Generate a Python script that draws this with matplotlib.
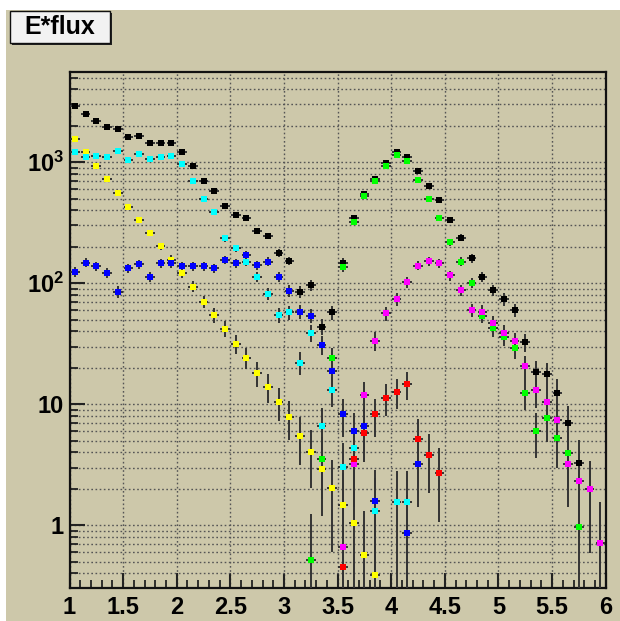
import numpy as np
import matplotlib
matplotlib.use("Agg")
import matplotlib.pyplot as plt
from matplotlib.patches import Rectangle
from matplotlib.ticker import FixedLocator, NullFormatter

nan = np.nan

# bin centres, 0.1 wide bins from 1 to 6
bin_centres = [1.05, 1.15, 1.25, 1.35, 1.45, 1.55, 1.65, 1.75, 1.85, 1.95,
               2.05, 2.15, 2.25, 2.35, 2.45, 2.55, 2.65, 2.75, 2.85, 2.95,
               3.05, 3.15, 3.25, 3.35, 3.45, 3.55, 3.65, 3.75, 3.85, 3.95,
               4.05, 4.15, 4.25, 4.35, 4.45, 4.55, 4.65, 4.75, 4.85, 4.95,
               5.05, 5.15, 5.25, 5.35, 5.45, 5.55, 5.65, 5.75, 5.85, 5.95]

# E*flux per component
total = [2935, 2495, 2208, 1946, 1884, 1609, 1649, 1435, 1444, 1444,
         1224, 927, 700, 576, 433, 369, 346, 272, 246, 179,
         153, 85.3, 96.8, 43.8, 57.6, 148, 348, 544, 733, 993,
         1210, 1113, 853, 637, 485, 334, 238, 161, 113, 88,
         73.8, 60.2, 32.7, 18.6, 17.7, 12.5, 6.97, 3.29, 2.0, 0.71]

yellow = [1559, 1224, 937, 724, 561, 430, 335, 261, 202, 157,
          121, 93.7, 70.5, 54.7, 42.2, 31.7, 24.3, 18.2, 14.0, 10.5,
          7.85, 5.5, 4.06, 2.9, 2.02, 1.47, 1.04, 0.565, 0.386, nan,
          nan, nan, nan, nan, nan, nan, nan, nan, nan, nan,
          nan, nan, nan, nan, nan, nan, nan, nan, nan, nan]

cyan = [1224, 1113, 1127, 1106, 1247, 1045, 1178, 1058, 1099, 1134,
        974, 700, 497, 391, 235, 195, 151, 113, 81.6, 54.7,
        57.6, 22.1, 38.6, 6.66, 13.1, 3.05, 4.33, nan, 1.31, nan,
        1.55, 1.55, nan, nan, nan, nan, nan, nan, nan, nan,
        nan, nan, nan, nan, nan, nan, nan, nan, nan, nan]

blue = [124, 148, 139, 122, 85.3, 133, 144, 113, 146, 146,
        138, 139, 139, 133, 156, 146, 171, 141, 151, 113,
        86.9, 58.2, 54.0, 30.9, 18.8, 8.27, 6.05, 6.66, 1.59, nan,
        nan, 0.863, 3.21, nan, nan, nan, nan, nan, nan, nan,
        nan, nan, nan, nan, nan, nan, nan, nan, nan, nan]

green = [nan, nan, nan, nan, nan, nan, nan, nan, nan, nan,
         nan, nan, nan, nan, nan, nan, nan, nan, nan, nan,
         nan, nan, 0.517, 3.51, 24.0, 135, 323, 527, 704, 937,
         1143, 1030, 714, 495, 344, 218, 151, 101, 54, 42.5,
         36.2, 29.0, 12.5, 6.02, 7.66, 5.30, 3.94, 0.974, nan, nan]

magenta = [nan, nan, nan, nan, nan, nan, nan, nan, nan, nan,
           nan, nan, nan, nan, nan, nan, nan, nan, nan, nan,
           nan, nan, nan, nan, nan, 0.665, 3.19, 11.9, 33.4, 56.5,
           73.8, 102, 140, 152, 146, 116, 88, 60.2, 58.2, 47.2,
           38.6, 33.2, 20.7, 13.0, 10.4, 7.42, 3.19, 2.32, 2.0, 0.71]

red = [nan, nan, nan, nan, nan, nan, nan, nan, nan, nan,
       nan, nan, nan, nan, nan, nan, nan, nan, nan, nan,
       nan, nan, nan, nan, nan, 0.455, 3.51, 5.76, 8.27, 11.3,
       12.6, 14.7, 5.2, 3.78, 2.72, nan, nan, nan, nan, nan,
       nan, nan, nan, nan, nan, nan, nan, nan, nan, nan]

series = [
    (total, "black"),
    (yellow, "#ffff00"),
    (cyan, "#00ffff"),
    (blue, "#0000ff"),
    (green, "#00ff00"),
    (magenta, "#ff00ff"),
    (red, "#ff0000"),
]

x_ticks = [1, 1.5, 2, 2.5, 3, 3.5, 4, 4.5, 5, 5.5, 6]
x_labels = ["1", "1.5", "2", "2.5", "3", "3.5", "4", "4.5", "5", "5.5", "6"]
y_ticks = [1, 10, 100, 1000]
y_labels = ["1", "10", r"$\mathbf{10^{2}}$", r"$\mathbf{10^{3}}$"]

TAN = "#cdc8aa"
W, H = 620, 621

plt.rcParams["font.family"] = ["Liberation Sans", "DejaVu Sans"]
plt.rcParams["mathtext.fontset"] = "custom"
plt.rcParams["mathtext.bf"] = "Liberation Sans:bold"
plt.rcParams["mathtext.rm"] = "Liberation Sans:bold"

fig = plt.figure(figsize=(W / 100, H / 100), dpi=100, facecolor="white")

# canvas background (white strip on top and left)
fig.add_artist(Rectangle((6 / W, 0), 1, 1 - 10 / H, transform=fig.transFigure,
                         facecolor=TAN, edgecolor="none", zorder=0))

left, right, top, bottom = 69.5, 605.7, 71.5, 588
ax = fig.add_axes([left / W, 1 - bottom / H, (right - left) / W, (bottom - top) / H])
ax.set_facecolor(TAN)
ax.set_yscale("log")
ax.set_xlim(1, 6)
ax.set_ylim(0.303, 5620)

for vals, col in series:
    v = np.array(vals, dtype=float)
    err = np.sqrt(v)  # poisson errors
    ax.errorbar(bin_centres, v, yerr=err, xerr=0.045, fmt="s", ms=4.0,
                mfc=col, mec=col, mew=0, ecolor="#333333", elinewidth=1.4,
                capsize=0, zorder=3)

# ticks
ax.xaxis.set_major_locator(FixedLocator(x_ticks))
ax.set_xticklabels(x_labels)
ax.xaxis.set_minor_locator(FixedLocator([1 + 0.1 * k for k in range(51)]))
ax.yaxis.set_major_locator(FixedLocator(y_ticks))
ax.set_yticklabels(y_labels)
minor_y = [m * d for d in [0.1, 1, 10, 100, 1000] for m in range(2, 10)]
ax.yaxis.set_minor_locator(FixedLocator(minor_y))
ax.yaxis.set_minor_formatter(NullFormatter())

ax.tick_params(axis="both", which="major", direction="in", length=11, width=1.5,
               labelsize=17, color="#222222")
ax.tick_params(axis="both", which="minor", direction="in", length=5.5, width=1.3,
               color="#222222")
ax.tick_params(axis="x", which="both", top=False, pad=6)
ax.tick_params(axis="y", which="both", right=False, pad=4)
for lab in ax.get_xticklabels() + ax.get_yticklabels():
    lab.set_fontweight("bold")

# grid: vertical at major x, horizontal at every log tick
ax.grid(True, axis="x", which="major", linestyle=(0, (1.2, 1.8)), color="#555555", lw=1.0)
ax.grid(True, axis="y", which="both", linestyle=(0, (1.2, 1.8)), color="#555555", lw=1.0)
ax.set_axisbelow(True)

for s in ax.spines.values():
    s.set_linewidth(1.6)
    s.set_color("#111111")

# title box "E*flux"
bx0, by0, bx1, by1 = 10, 11, 110, 43
fig.add_artist(Rectangle(((bx0 + 2) / W, 1 - (by1 + 2) / H), (bx1 - bx0) / W, (by1 - by0) / H,
                         transform=fig.transFigure, facecolor="#222222", edgecolor="none", zorder=5))
fig.add_artist(Rectangle((bx0 / W, 1 - by1 / H), (bx1 - bx0) / W, (by1 - by0) / H,
                         transform=fig.transFigure, facecolor="#f2f2f2", edgecolor="#111111",
                         lw=1.0, zorder=6))
fig.text((bx0 + bx1) / 2 / W, 1 - (by0 + by1) / 2 / H, "E*flux", fontsize=18,
         fontweight="bold", ha="center", va="center", zorder=7)

fig.savefig("out.png", dpi=100, facecolor=fig.get_facecolor())
